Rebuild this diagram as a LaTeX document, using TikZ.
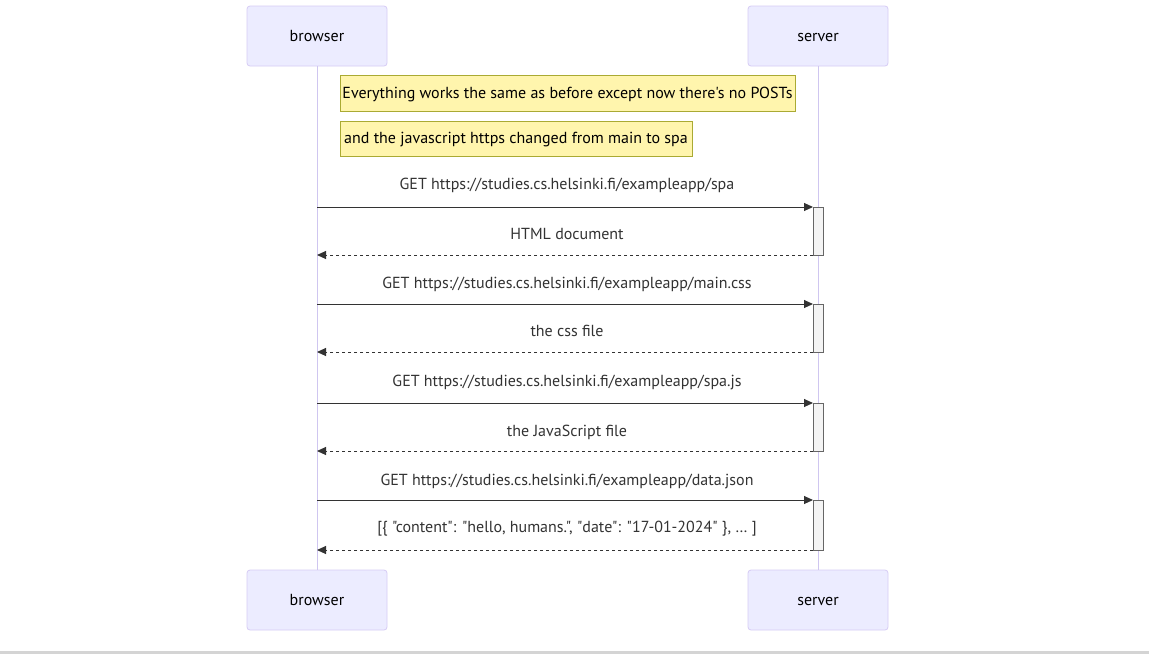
\documentclass[tikz,border=0pt]{standalone}
\usepackage{fontspec}
\setmainfont{PT Sans}[Ligatures=TeXOff]
\usetikzlibrary{arrows.meta,calc}
\definecolor{actorfill}{HTML}{ECECFF}
\definecolor{actorline}{HTML}{D6CCF5}
\definecolor{lifeline}{HTML}{CFC6F0}
\definecolor{notefill}{HTML}{FFF5AD}
\definecolor{noteline}{HTML}{AAAA33}
\definecolor{txt}{HTML}{333333}
\definecolor{actfill}{HTML}{F4F4F4}
\definecolor{actline}{HTML}{666666}
\tikzset{
  actor/.style={draw=actorline, fill=actorfill, rounded corners=3pt, line width=0.8pt,
    minimum width=140pt, minimum height=60pt, inner sep=0pt, text=black,
    font=\fontsize{16pt}{18pt}\selectfont},
  actortext/.style={text=black, inner sep=0pt, text height=11pt, text depth=3pt,
    font=\fontsize{16pt}{18pt}\selectfont},
  note/.style={draw=noteline, fill=notefill, line width=0.8pt, inner sep=0pt,
    minimum height=36pt, anchor=north west, text=black,
    font=\fontsize{16pt}{18pt}\selectfont},
  notetext/.style={text=black, inner sep=0pt, text height=11pt, text depth=3pt,
    font=\fontsize{16pt}{18pt}\selectfont},
  msglabel/.style={text=txt, font=\fontsize{16pt}{18pt}\selectfont, inner sep=0pt,
    text height=11pt, text depth=3pt},
  msg/.style={draw=txt, line width=1pt, -{Triangle[length=9pt,width=8pt]}},
  reply/.style={msg, dash pattern=on 3pt off 3pt},
  activation/.style={draw=actline, fill=actfill, line width=0.8pt},
  life/.style={draw=lifeline, line width=1pt}
}
\begin{document}
\begin{tikzpicture}[x=1pt,y=-1pt]
\useasboundingbox (0,0) rectangle (1149,654);
\fill[white] (0,0) rectangle (1149,654);
\fill[black!17] (0,651) rectangle (1149,654);

% participants
\node[actor] (bt) at (317,36) {};
\node[actor] (st) at (818,36) {};
\node[actor] (bb) at (317,600) {};
\node[actor] (sb) at (818,600) {};
\node[actortext] (btl) at (317,37) {browser};
\node[actortext] (stl) at (818,37) {server};
\node[actortext] (bbl) at (317,601) {browser};
\node[actortext] (sbl) at (818,601) {server};

% lifelines
\draw[life] (bt.south) -- (bb.north);
\draw[life] (st.south) -- (sb.north);

% notes
\node[note, minimum width=455pt] (n1) at (340,75) {};
\node[note, minimum width=352pt, minimum height=35pt] (n2) at (340,121) {};
\node[notetext] (n1t) at (567.5,94.5) {Everything works the same as before except now there's no POSTs};
\node[notetext] (n2t) at (516,139.5) {and the javascript https changed from main to spa};

% activation bars
\foreach \ya/\yb in {207/255, 304/352, 403/451, 500/550}
  \draw[activation] (813,\ya) rectangle (823,\yb);

% message endpoints on the lifelines
\foreach \i/\ya/\yb in {1/207/255, 2/304/352, 3/403/451, 4/500/550} {
  \coordinate (b\i) at (317,\ya);
  \coordinate (s\i) at (813,\ya);
  \coordinate (r\i) at (813,\yb);
  \coordinate (c\i) at (317,\yb);
}

% requests and replies
\draw[msg] (b1) -- (s1);
\draw[reply] (r1) -- (c1);
\draw[msg] (b2) -- (s2);
\draw[reply] (r2) -- (c2);
\draw[msg] (b3) -- (s3);
\draw[reply] (r3) -- (c3);
\draw[msg] (b4) -- (s4);
\draw[reply] (r4) -- (c4);

% message texts
\node[msglabel] (m1) at (567,185) {GET https://studies.cs.helsinki.fi/exampleapp/spa};
\node[msglabel] (a1) at (567,235) {HTML document};
\node[msglabel] (m2) at (567,284) {GET https://studies.cs.helsinki.fi/exampleapp/main.css};
\node[msglabel] (a2) at (567,332) {the css file};
\node[msglabel] (m3) at (567,382) {GET https://studies.cs.helsinki.fi/exampleapp/spa.js};
\node[msglabel] (a3) at (567,432) {the JavaScript file};
\node[msglabel] (m4) at (567,481) {GET https://studies.cs.helsinki.fi/exampleapp/data.json};
\node[msglabel] (a4) at (567,528) {[\{ "content": "hello, humans.", "date": "17-01-2024" \}, \dots\ ]};
\end{tikzpicture}
\end{document}
